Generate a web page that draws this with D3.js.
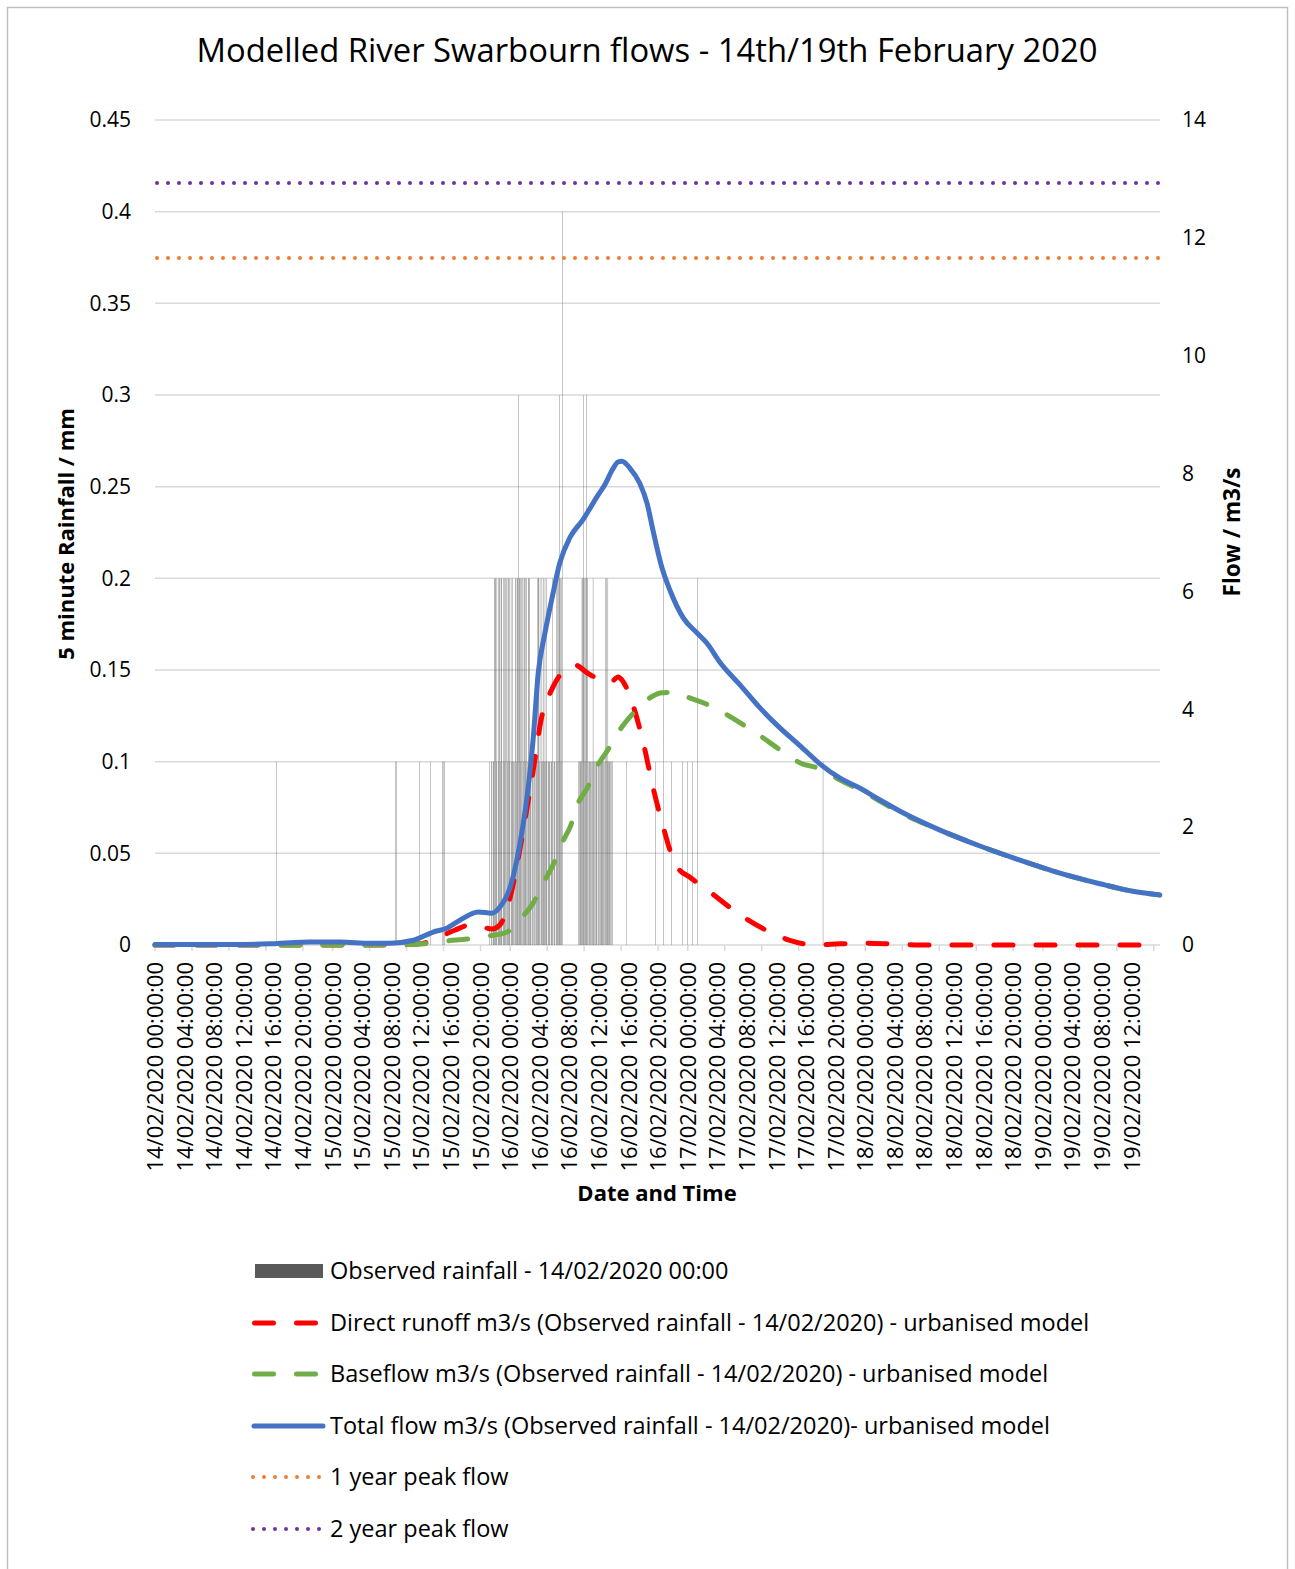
<!DOCTYPE html>
<html>
<head>
<meta charset="utf-8">
<script src="https://cdn.jsdelivr.net/npm/d3@7"></script>
<style>
  body { margin: 0; background: #fff; }
  text { font-family: "Open Sans", "Noto Sans", sans-serif; fill: #000; }
</style>
</head>
<body>
<div id="chart"></div>
<script>
// rainfall: isolated 5 minute tips
const rainTimes = ["14/02/2020 16:20", "15/02/2020 08:25", "15/02/2020 08:35", "15/02/2020 11:40",
    "15/02/2020 13:10", "15/02/2020 14:50", "15/02/2020 15:00", "15/02/2020 15:05",
    "16/02/2020 15:40", "16/02/2020 19:35", "16/02/2020 20:40", "16/02/2020 21:45",
    "16/02/2020 23:15", "16/02/2020 23:55", "17/02/2020 00:35", "17/02/2020 01:15",
    "17/02/2020 18:15"];
const rainValues = [0.1, 0.1, 0.1, 0.1, 0.1, 0.1, 0.1, 0.1, 0.1, 0.1, 0.2, 0.1, 0.1, 0.1, 0.1, 0.2, 0.1];

// rainfall: continuous bursts, one value per 5 minutes from the start time
const burstStarts = ["15/02/2020 21:10", "16/02/2020 09:10"];
const burstValues = [
    [0.1,0,0,0.1,0.1,0,0.1,0.1,0.2,0.2,
     0.2,0.1,0.2,0,0.1,0.2,0.2,0.2,0.1,0.2,
     0.2,0,0.1,0.2,0.2,0.1,0.2,0,0.2,0.1,
     0.2,0.2,0.1,0.2,0,0.2,0.1,0.2,0.1,0.1,
     0.1,0,0.2,0.2,0.1,0.2,0.2,0.3,0.2,0.2,
     0.2,0.1,0.2,0,0.2,0.1,0.2,0.2,0.1,0.2,
     0.2,0,0.1,0.2,0.2,0.2,0.1,0.1,0,0.1,
     0.1,0,0.1,0.1,0.1,0,0.1,0.1,0.2,0.2,
     0.2,0.1,0.2,0,0.1,0.2,0.1,0.1,0.2,0.1,
     0.2,0.1,0.2,0.1,0,0.1,0.1,0.1,0.1,0,
     0.1,0.1,0.2,0.1,0,0.1,0.1,0,0.1,0.2,
     0.2,0.1,0.2,0.2,0.3,0.2,0.1,0.2,0.4],
    [0.1,0,0.1,0.1,0.1,0.1,0.2,0.2,0.3,0.2,
     0.2,0.1,0.2,0.3,0.2,0.2,0.1,0,0.1,0.1,
     0.1,0.1,0,0.1,0.2,0.1,0.1,0,0.1,0.1,
     0.1,0,0.1,0.1,0.1,0,0.1,0.1,0.1,0.1,
     0.1,0.1,0,0.1,0.2,0.1,0.2,0.1,0.2,0.1,
     0.1,0.1,0.1,0,0.1,0.1]
];

// flows, hours after 14/02/2020 00:00
const totalHours = [0, 10.1, 15.5, 18.2, 20.9, 25, 29.1, 31.8, 34.9, 37.6, 39.5, 41.2, 43.7, 45.5, 46.6,
    48.0, 48.9, 49.7, 50.4, 51.1, 51.8, 52.7, 53.7, 54.7, 56.1, 57.8, 59.9, 60.8, 61.8, 62.6, 63.1,
    64.2, 65.5, 66.5, 67.3, 68.5, 69.6, 71.4, 73.3, 74.6, 76.4, 79.1, 81.8, 84.5, 87.2, 89.9, 92.6,
    95.3, 98.0, 100.7, 106.1, 111.5, 116.9, 122.3, 127.7, 131.8, 135.8];
const totalFlow = [0.01, 0.01, 0.02, 0.04, 0.05, 0.05, 0.03, 0.03, 0.08, 0.22, 0.29, 0.42, 0.56, 0.54, 0.64,
    0.98, 1.44, 2.00, 2.63, 3.48, 4.62, 5.29, 5.91, 6.48, 6.92, 7.21, 7.64, 7.81, 8.06, 8.20, 8.21,
    8.09, 7.84, 7.50, 7.04, 6.41, 6.02, 5.55, 5.29, 5.12, 4.79, 4.41, 4.02, 3.68, 3.38, 3.07, 2.83,
    2.66, 2.46, 2.27, 1.95, 1.68, 1.44, 1.22, 1.04, 0.92, 0.85];

const runoffHours = [0, 31.8, 35.8, 38.5, 40.5, 42.6, 44.2, 45.5, 46.6, 48.0, 49.3, 50.3, 51.4, 52.0,
    53.8, 55.4, 56.8, 58.4, 60.1, 61.5, 62.6, 63.1, 64.6, 66.0, 67.3, 68.7, 69.6, 70.6, 72.3, 75.0,
    79.1, 83.1, 85.8, 89.2, 92.6, 96.0, 99.3, 103.4, 135.8];
const directRunoff = [0, 0, 0.02, 0.14, 0.25, 0.34, 0.31, 0.27, 0.34, 0.81, 1.61, 2.34, 3.19, 3.70,
    4.38, 4.67, 4.75, 4.62, 4.50, 4.45, 4.55, 4.50, 4.07, 3.43, 2.68, 2.00, 1.61, 1.32, 1.15, 0.90,
    0.51, 0.22, 0.08, 0, 0.02, 0.03, 0.02, 0, 0];

const baseHours = [0, 23.7, 34.1, 36.2, 39.5, 42.2, 44.9, 47.6, 48.6, 49.7, 51.1, 52.7, 53.8, 55.0,
    56.1, 57.2, 58.4, 59.7, 61.2, 62.6, 64.2, 66.5, 68.5, 70.3, 71.9, 74.1, 76.4, 79.1, 81.8, 84.5,
    87.2, 89.9, 92.6, 95.3, 98.0, 100.7, 106.1, 111.5, 116.9, 122.3, 127.7, 131.8, 135.8];
const baseflow = [0, 0, 0.01, 0.02, 0.07, 0.10, 0.15, 0.22, 0.34, 0.48, 0.71, 1.10, 1.36, 1.73,
    2.00, 2.41, 2.66, 3.02, 3.31, 3.61, 3.87, 4.16, 4.28, 4.29, 4.21, 4.11, 3.97, 3.77, 3.55, 3.31,
    3.09, 2.99, 2.80, 2.63, 2.44, 2.25, 1.95, 1.68, 1.44, 1.22, 1.04, 0.92, 0.85];

const peakFlows = [11.66, 12.93];   // 1 year, 2 year
const peakColors = ["#ed7d31", "#7030a0"];

const rainTicks = [0, 0.05, 0.1, 0.15, 0.2, 0.25, 0.3, 0.35, 0.4, 0.45];
const flowTicks = [0, 2, 4, 6, 8, 10, 12, 14];

const legendLabels = ["Observed rainfall - 14/02/2020 00:00",
    "Direct runoff m3/s (Observed rainfall - 14/02/2020) - urbanised model",
    "Baseflow m3/s (Observed rainfall - 14/02/2020) - urbanised model",
    "Total flow m3/s (Observed rainfall - 14/02/2020)- urbanised model",
    "1 year peak flow", "2 year peak flow"];

(function(){
    const width = 1295, height = 1569;
    const plot = {left: 155, right: 1160, top: 120, bottom: 945};
    const parse = d3.timeParse("%d/%m/%Y %H:%M");
    const t0 = parse("14/02/2020 00:00");
    const t1 = parse("19/02/2020 15:50");
    const hourToTime = h => new Date(t0.getTime() + h * 3600000);

    let svg = d3.select("#chart").append("svg")
        .attr("width", width)
        .attr("height", height);

    // chart frame
    svg.append("rect")
        .attr("x", 7.5).attr("y", 7.5)
        .attr("width", 1280).attr("height", 1580)
        .attr("fill", "none").attr("stroke", "#bfbfbf").attr("stroke-width", 1.5);

    let x = d3.scaleTime().domain([t0, t1]).range([plot.left, plot.right]);
    let yRain = d3.scaleLinear().domain([0, 0.45]).range([plot.bottom, plot.top]);
    let yFlow = d3.scaleLinear().domain([0, 14]).range([plot.bottom, plot.top]);
    const step = x(d3.timeMinute.offset(t0, 5)) - x(t0);

    // title
    svg.append("text")
        .attr("x", 647).attr("y", 62)
        .style("text-anchor", "middle")
        .style("font-size", "32.8px")
        .text("Modelled River Swarbourn flows - 14th/19th February 2020");

    // gridlines
    svg.append("g").selectAll("line").data(rainTicks.slice(1)).enter()
        .append("line")
        .attr("x1", plot.left).attr("x2", plot.right)
        .attr("y1", d => yRain(d)).attr("y2", d => yRain(d))
        .attr("stroke", "#d9d9d9").attr("stroke-width", 1.5);

    // left axis labels
    svg.append("g").selectAll("text").data(rainTicks).enter()
        .append("text")
        .attr("x", 131).attr("y", d => yRain(d))
        .attr("dy", "0.35em")
        .style("text-anchor", "end")
        .style("font-size", "21px")
        .text(d => d3.format("")(d));

    // right axis labels
    svg.append("g").selectAll("text").data(flowTicks).enter()
        .append("text")
        .attr("x", 1182).attr("y", d => yFlow(d))
        .attr("dy", "0.35em")
        .style("text-anchor", "start")
        .style("font-size", "21px")
        .text(d => d);

    // x axis line + tick marks (every 5 hours) + labels (every 4 hours)
    svg.append("line")
        .attr("x1", plot.left).attr("x2", plot.right)
        .attr("y1", plot.bottom).attr("y2", plot.bottom)
        .attr("stroke", "#d9d9d9").attr("stroke-width", 1.5);

    svg.append("g").selectAll("line").data(d3.timeHour.every(5).range(t0, t1)).enter()
        .append("line")
        .attr("x1", d => x(d)).attr("x2", d => x(d))
        .attr("y1", plot.bottom).attr("y2", plot.bottom + 6)
        .attr("stroke", "#d9d9d9").attr("stroke-width", 1.5);

    const fmt = d3.timeFormat("%d/%m/%Y %H:%M:%S");
    svg.append("g").selectAll("text").data(d3.timeHour.every(4).range(t0, t1)).enter()
        .append("text")
        .attr("transform", d => `translate(${x(d) + step / 2}, 962) rotate(-90)`)
        .attr("dy", "0.35em")
        .style("text-anchor", "end")
        .style("font-size", "22px")
        .text(d => fmt(d));

    // axis titles
    svg.append("text")
        .attr("transform", "translate(66, 534) rotate(-90)")
        .attr("dy", "0.35em")
        .style("text-anchor", "middle")
        .style("font-size", "22px").style("font-weight", "bold")
        .text("5 minute Rainfall / mm");

    svg.append("text")
        .attr("transform", "translate(1232, 532) rotate(-90)")
        .attr("dy", "0.35em")
        .style("text-anchor", "middle")
        .style("font-size", "22.5px").style("font-weight", "bold")
        .text("Flow / m3/s");

    svg.append("text")
        .attr("x", 657).attr("y", 1193)
        .attr("dy", "0.35em")
        .style("text-anchor", "middle")
        .style("font-size", "22px").style("font-weight", "bold")
        .text("Date and Time");

    // rainfall bars
    let rain = rainTimes.map((t, i) => ({t: parse(t), v: rainValues[i]}));
    burstStarts.forEach(function(s, b){
        let start = parse(s);
        burstValues[b].forEach(function(v, i){
            if (v > 0) rain.push({t: d3.timeMinute.offset(start, 5 * i), v: v});
        });
    });

    svg.append("g").selectAll("rect").data(rain).enter()
        .append("rect")
        .attr("x", d => x(d.t) + step * 0.22)
        .attr("width", step * 0.56)
        .attr("y", d => yRain(d.v))
        .attr("height", d => yRain(0) - yRain(d.v))
        .attr("fill", "#595959");

    // flow lines
    let line = d3.line()
        .x(d => x(hourToTime(d[0])))
        .y(d => yFlow(d[1]))
        .curve(d3.curveMonotoneX);

    const series = [
        {pts: d3.zip(runoffHours, directRunoff), color: "#ff0000", dash: "19,23"},
        {pts: d3.zip(baseHours, baseflow), color: "#70ad47", dash: "19,23"},
        {pts: d3.zip(totalHours, totalFlow), color: "#4472c4", dash: null}
    ];

    series.forEach(function(s){
        svg.append("path")
            .datum(s.pts)
            .attr("d", line)
            .attr("fill", "none")
            .attr("stroke", s.color)
            .attr("stroke-width", 5)
            .attr("stroke-linecap", "round")
            .attr("stroke-linejoin", "round")
            .attr("stroke-dasharray", s.dash);
    });

    peakFlows.forEach(function(f, i){
        svg.append("line")
            .attr("x1", plot.left + 2).attr("x2", plot.right)
            .attr("y1", yFlow(f)).attr("y2", yFlow(f))
            .attr("stroke", peakColors[i])
            .attr("stroke-width", 4)
            .attr("stroke-linecap", "round")
            .attr("stroke-dasharray", "0,11");
    });

    // legend
    const legY = [1271, 1323, 1374, 1426, 1477, 1529];
    let leg = svg.append("g");
    leg.append("rect")
        .attr("x", 255).attr("y", legY[0] - 7)
        .attr("width", 68).attr("height", 14)
        .attr("fill", "#595959");
    series.forEach(function(s, i){
        leg.append("line")
            .attr("x1", s.dash ? 254.5 : 254).attr("x2", s.dash ? 322 : 323)
            .attr("y1", legY[i + 1]).attr("y2", legY[i + 1])
            .attr("stroke", s.color).attr("stroke-width", 5)
            .attr("stroke-linecap", "round")
            .attr("stroke-dasharray", s.dash);
    });
    peakColors.forEach(function(c, i){
        leg.append("line")
            .attr("x1", 253).attr("x2", 322)
            .attr("y1", legY[i + 4]).attr("y2", legY[i + 4])
            .attr("stroke", c).attr("stroke-width", 4)
            .attr("stroke-linecap", "round")
            .attr("stroke-dasharray", "0,11");
    });
    leg.selectAll("text").data(legendLabels).enter()
        .append("text")
        .attr("x", 330).attr("y", (d, i) => legY[i])
        .attr("dy", "0.35em")
        .style("font-size", "23.5px")
        .text(d => d);
})();
</script>
</body>
</html>
